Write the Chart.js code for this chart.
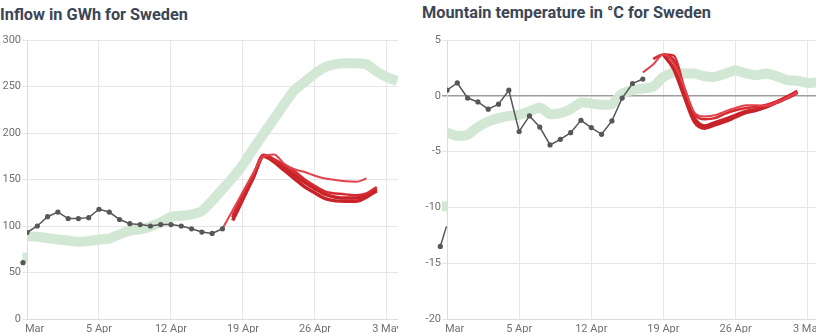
<!DOCTYPE html>
<html>
<head>
<meta charset="utf-8">
<script src="https://cdn.jsdelivr.net/npm/chart.js@4"></script>
<style>
  body { margin: 0; width: 816px; height: 333px; overflow: hidden; background: #fff; font-family: Roboto, sans-serif; }
  .panel { position: absolute; top: 0; height: 333px; overflow: hidden; }
  .panel h2 { position: absolute; margin: 0; top: 5px; font-size: 16.3px; font-weight: 700; color: #3b4656; white-space: nowrap; line-height: 20px; }
  .panel canvas { position: absolute; top: 30px; left: 0; }
  #inflowPanel { left: 0; width: 398px; }
  #tempPanel { left: 420px; width: 396px; }
</style>
</head>
<body>
<div class="panel" id="inflowPanel">
  <h2 style="left:0">Inflow in GWh for Sweden</h2>
  <canvas id="inflowChart" width="420" height="303"></canvas>
</div>
<div class="panel" id="tempPanel">
  <h2 style="left:2px; top:3px">Mountain temperature in °C for Sweden</h2>
  <canvas id="tempChart" width="420" height="303"></canvas>
</div>
<script>
// day 0 = 29 Mar, one tick per week
var tickLabels = ["29 Mar", "5 Apr", "12 Apr", "19 Apr", "26 Apr", "3 May"];

// inflow (GWh)
var inflowObserved = [93, 100, 110, 115, 108, 108, 109, 118, 115, 107, 102.5, 101.5, 100, 101.5, 101.5, 100, 97, 93.5, 92, 97];
var inflowNormal = [89, 88.5, 87, 85.5, 84.5, 83, 84, 85.5, 86.5, 91, 95, 96.5, 99.5, 104, 110, 111, 112.5, 116, 127, 139.5, 152, 166, 183, 199, 215, 231, 246, 255, 264, 271, 274, 275, 275, 274, 266, 260, 256];
var inflowFc1 = [97, 117, 137, 157, 175, 177, 167, 161, 158, 154, 151, 149.5, 148, 147.5, 151]; // from day 19
var inflowFc2 = [112, 134, 155, 176, 172, 166, 159, 150, 143, 137, 135, 134, 133, 135, 142]; // from day 20
var inflowFc3 = [106, 129, 152, 175, 169, 160, 151, 142, 135.5, 129.5, 127, 126.5, 126.5, 131, 138];
var inflowFc4 = [109, 131, 153, 176, 171, 163, 155, 147, 140, 134, 131, 130, 130, 133, 140];
var inflowEarlyObs = 60.6;
var inflowEarlyNormal = 66;

// mountain temperature (°C)
var tempObserved = [0.5, 1.15, -0.2, -0.55, -1.2, -0.75, 0.5, -3.2, -1.8, -2.8, -4.4, -3.9, -3.3, -2.2, -2.85, -3.45, -2.25, -0.2, 1.1, 1.5];
var tempNormal = [-3.3, -3.6, -3.5, -2.8, -2.3, -2.0, -1.8, -1.7, -1.4, -1.05, -1.65, -1.55, -1.2, -0.6, -0.7, -0.8, -0.75, 0.2, 0.5, 0.65, 0.8, 1.7, 2.1, 2.0, 2.0, 1.75, 1.7, 2.0, 2.3, 2.0, 1.85, 2.0, 1.75, 1.4, 1.35, 1.15, 1.2];
var tempFc1 = [2.1, 2.8, 3.7, 2.9, 0.8, -1.5, -1.85, -1.75, -1.4, -1.1, -0.85, -0.85, -0.9, -0.6, -0.2, 0.3]; // from day 19
var tempFc2 = [3.3, 3.7, 3.6, 0.8, -1.6, -2.1, -2.0, -1.6, -1.3, -1.1, -1.0, -0.8, -0.5, -0.1, 0.35]; // from day 20
var tempFc3 = [3.7, 2.4, 0.0, -2.3, -2.9, -2.6, -2.3, -1.9, -1.5, -1.3, -1.0, -0.6, -0.2, 0.3]; // from day 21
var tempFc4 = [3.7, 3.1, 0.3, -2.0, -2.7, -2.4, -2.1, -1.75, -1.4, -1.25, -0.95, -0.55, -0.1, 0.4];
var tempEarlyObs = [-13.5, -11.7];
var tempEarlyNormal = -9.9;

var GREY = "#575757";
var BAND = "#d2e8d5";
var RED_LIGHT = "#e2434a";
var RED = "#d62a31";
var RED_DARK = "#c9232a";

function dayPoints(start, values) {
  return values.map(function (v, i) {
    return { x: start + i, y: v };
  });
}

// lets the first few pixels left of the y axis show through
var edgeClip = { left: 10, top: 0, right: 0, bottom: 0 };

// hides the part of the first x label that runs under the y axis labels
var trimCorner = {
  id: "trimCorner",
  afterDraw: function (chart) {
    var ctx = chart.ctx;
    var area = chart.chartArea;
    ctx.save();
    ctx.fillStyle = "#fff";
    ctx.fillRect(0, area.bottom + 5, area.left - 1, chart.height - area.bottom);
    ctx.restore();
  },
};

function obsDataset(points) {
  return {
    data: points,
    borderColor: GREY,
    backgroundColor: GREY,
    borderWidth: 1.5,
    pointRadius: 2.6,
    pointHoverRadius: 10,
    pointBorderWidth: 0,
    tension: 0,
    order: 1,
  };
}

function bandDataset(points, extra) {
  return Object.assign({
    data: points,
    borderColor: BAND,
    borderWidth: 10,
    pointRadius: 0,
    borderJoinStyle: "round",
    tension: 0.15,
    order: 10,
  }, extra || {});
}

function fcDataset(points, color, width) {
  return {
    data: points,
    borderColor: color,
    borderWidth: width,
    pointRadius: 0,
    cubicInterpolationMode: "monotone",
    borderJoinStyle: "round",
    order: 2,
  };
}

function buildOptions(yMin, yMax, yStep, xMax, zeroLine) {
  return {
    responsive: false,
    animation: false,
    events: [],
    layout: { padding: { top: 10, right: 22, bottom: 0, left: 0 } },
    plugins: { legend: { display: false }, tooltip: { enabled: false } },
    scales: {
      x: {
        type: "linear",
        min: 0,
        max: xMax,
        afterBuildTicks: function (scale) {
          scale.ticks = tickLabels.map(function (_, i) {
            return { value: i * 7 };
          });
        },
        afterFit: function (scale) {
          scale.height = 14;
        },
        ticks: {
          autoSkip: false,
          maxRotation: 0,
          padding: 4,
          color: "#707070",
          font: { family: "Roboto", size: 11 },
          callback: function (v) {
            return tickLabels[Math.round(v / 7)];
          },
        },
        grid: { color: "#e6e6e6", drawTicks: false },
        border: { color: "#dcdcdc" },
      },
      y: {
        min: yMin,
        max: yMax,
        afterFit: function (scale) {
          scale.width = 27;
        },
        ticks: {
          stepSize: yStep,
          padding: 1,
          color: "#707070",
          font: { family: "Roboto", size: 11 },
        },
        grid: {
          tickLength: 5,
          color: function (c) {
            return zeroLine && c.tick && c.tick.value === 0 ? "#9d9d9d" : "#e6e6e6";
          },
          lineWidth: function (c) {
            return zeroLine && c.tick && c.tick.value === 0 ? 1.5 : 1;
          },
        },
        border: { color: "#dcdcdc" },
      },
    },
  };
}

new Chart(document.getElementById("inflowChart"), {
  type: "line",
  data: {
    datasets: [
      obsDataset(dayPoints(0, inflowObserved)),
      Object.assign(obsDataset([{ x: -0.39, y: inflowEarlyObs }]), { clip: edgeClip }),
      fcDataset(dayPoints(19, inflowFc1), RED_LIGHT, 2),
      fcDataset(dayPoints(20, inflowFc2), RED, 2.5),
      fcDataset(dayPoints(20, inflowFc3), RED_DARK, 3.5),
      fcDataset(dayPoints(20, inflowFc4), RED_DARK, 3.5),
      bandDataset(dayPoints(0, inflowNormal)),
      bandDataset([{ x: -0.45, y: inflowEarlyNormal }, { x: 0, y: inflowEarlyNormal }], { clip: edgeClip }),
    ],
  },
  options: buildOptions(0, 300, 50, 36.07, false),
  plugins: [trimCorner],
});

new Chart(document.getElementById("tempChart"), {
  type: "line",
  data: {
    datasets: [
      obsDataset(dayPoints(0, tempObserved)),
      Object.assign(obsDataset([{ x: -0.65, y: tempEarlyObs[0] }, { x: -0.05, y: tempEarlyObs[1] }]), {
        clip: edgeClip,
        pointRadius: [2.6, 0],
      }),
      fcDataset(dayPoints(19, tempFc1), RED_LIGHT, 2),
      fcDataset(dayPoints(20, tempFc2), RED, 2.5),
      fcDataset(dayPoints(21, tempFc3), RED_DARK, 3.5),
      fcDataset(dayPoints(21, tempFc4), RED_DARK, 3.5),
      bandDataset(dayPoints(0, tempNormal)),
      bandDataset([{ x: -0.5, y: tempEarlyNormal }, { x: 0, y: tempEarlyNormal }], { clip: edgeClip }),
    ],
  },
  options: buildOptions(-20, 5, 5, 36.0, true),
  plugins: [trimCorner],
});
</script>
</body>
</html>
